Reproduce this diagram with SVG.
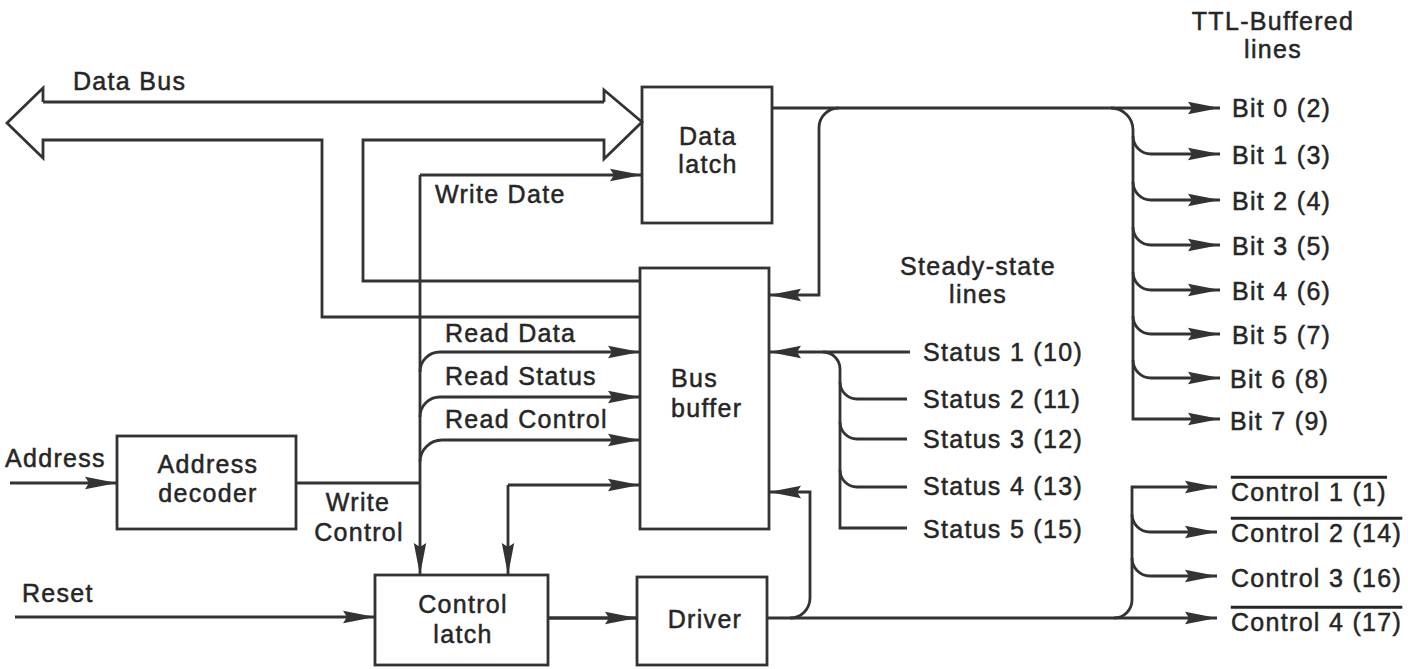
<svg xmlns="http://www.w3.org/2000/svg" width="1408" height="669" viewBox="0 0 1408 669">
<style>
.box{fill:none;stroke:#333;stroke-width:2.8}
.ln{fill:none;stroke:#333;stroke-width:2.8;stroke-linejoin:miter}
.arr{marker-end:url(#ah)}
text{font-family:"Liberation Sans",Arial,sans-serif;font-size:25px;fill:#262626;stroke:#262626;stroke-width:0.5px;letter-spacing:1.3px}
.m{text-anchor:middle}
.ov{text-decoration:overline}
</style>
<defs>
<marker id="ah" markerUnits="userSpaceOnUse" markerWidth="34" markerHeight="14" refX="32" refY="7" orient="auto">
<path d="M0,0.8 L32,7 L0,13.2 L4,7 z" fill="#333"/>
</marker>
</defs>
<rect width="1408" height="669" fill="#fff"/>

<g id="connectors">
<path class="ln" d="M43,102 H604 M43,102 V88 L7,123 L43,158 V140 H322 V317 H640 M604,102 V90 L642,122 L604,159 V140 H363 V281 H640"/>
<path class="ln arr" d="M420,175 H642"/>
<path class="ln arr" d="M420,175 V575"/>
<path class="ln" d="M296,483 H420"/>
<path class="ln arr" d="M420,372 A20,20 0 0 1 440,352 H640"/>
<path class="ln arr" d="M420,417 A20,20 0 0 1 440,397 H640"/>
<path class="ln arr" d="M420,462 A22,22 0 0 1 442,440 H640"/>
<path class="ln arr" d="M508,485 H640"/>
<path class="ln arr" d="M508,485 V575"/>
<path class="ln arr" d="M10,483 H117"/>
<path class="ln arr" d="M15,617 H375"/>
<path class="ln arr" style="stroke-width:3.6" d="M548,618 H637"/>
<path class="ln arr" d="M772,108 H1220"/>
<path class="ln arr" d="M839,108 A20,20 0 0 0 819,128 V295 H769"/>
<path class="ln arr" d="M1111,108 A22,22 0 0 1 1133,130 V419 H1220"/>
<path class="ln arr" d="M1133,136 A18,18 0 0 0 1151,154 H1220"/>
<path class="ln arr" d="M1133,182 A18,18 0 0 0 1151,200 H1220"/>
<path class="ln arr" d="M1133,227 A18,18 0 0 0 1151,245 H1220"/>
<path class="ln arr" d="M1133,272 A18,18 0 0 0 1151,290 H1220"/>
<path class="ln arr" d="M1133,316 A18,18 0 0 0 1151,334 H1220"/>
<path class="ln arr" d="M1133,360 A18,18 0 0 0 1151,378 H1220"/>
<path class="ln arr" d="M910,352 H769"/>
<path class="ln" d="M823,352 A17,17 0 0 1 840,369 V528 H907"/>
<path class="ln" d="M840,382 A17,17 0 0 0 857,399 H907"/>
<path class="ln" d="M840,422 A17,17 0 0 0 857,439 H907"/>
<path class="ln" d="M840,470 A17,17 0 0 0 857,487 H907"/>
<path class="ln arr" d="M767,618 H1217"/>
<path class="ln arr" d="M790,618 A20,20 0 0 0 810,598 V492 H769"/>
<path class="ln arr" d="M1114,618 A18,18 0 0 0 1132,600 V487 H1217"/>
<path class="ln arr" d="M1132,514 A18,18 0 0 0 1150,532 H1217"/>
<path class="ln arr" d="M1132,558 A18,18 0 0 0 1150,576 H1217"/>
</g>

<g id="data-latch">
<rect class="box" x="642" y="87" width="130" height="136"/>
<text class="m" x="708" y="145">Data</text>
<text class="m" x="708" y="173">latch</text>
</g>
<g id="bus-buffer">
<rect class="box" x="640" y="268" width="129" height="261"/>
<text x="671" y="387">Bus</text>
<text x="671" y="417">buffer</text>
</g>
<g id="address-decoder">
<rect class="box" x="117" y="436" width="179" height="93"/>
<text class="m" x="208" y="473">Address</text>
<text class="m" x="208" y="502">decoder</text>
</g>
<g id="control-latch">
<rect class="box" x="375" y="575" width="173" height="90"/>
<text class="m" x="463" y="613">Control</text>
<text class="m" x="463" y="643">latch</text>
</g>
<g id="driver">
<rect class="box" x="637" y="577" width="130" height="88"/>
<text class="m" x="705" y="628">Driver</text>
</g>

<g id="labels">
<text x="73" y="90">Data Bus</text>
<text x="435" y="203">Write Date</text>
<text x="445" y="342">Read Data</text>
<text x="445" y="385">Read Status</text>
<text x="445" y="428">Read Control</text>
<text x="5" y="467">Address</text>
<text class="m" x="358" y="511">Write</text>
<text class="m" x="359" y="541">Control</text>
<text x="22" y="602">Reset</text>
<text class="m" x="978" y="275">Steady-state</text>
<text class="m" x="978" y="303">lines</text>
<text class="m" x="1273" y="30">TTL-Buffered</text>
<text class="m" x="1273" y="58">lines</text>
<text x="1232" y="117">Bit 0 (2)</text>
<text x="1232" y="164">Bit 1 (3)</text>
<text x="1232" y="210">Bit 2 (4)</text>
<text x="1232" y="255">Bit 3 (5)</text>
<text x="1232" y="300">Bit 4 (6)</text>
<text x="1232" y="344">Bit 5 (7)</text>
<text x="1230" y="388">Bit 6 (8)</text>
<text x="1230" y="430">Bit 7 (9)</text>
<text x="923" y="361">Status 1 (10)</text>
<text x="923" y="408">Status 2 (11)</text>
<text x="923" y="448">Status 3 (12)</text>
<text x="923" y="495">Status 4 (13)</text>
<text x="923" y="538">Status 5 (15)</text>
<text class="ov" x="1231" y="501">Control 1 (1)</text>
<text class="ov" x="1231" y="542">Control 2 (14)</text>
<text x="1231" y="587">Control 3 (16)</text>
<text class="ov" x="1231" y="631">Control 4 (17)</text>
</g>
</svg>
